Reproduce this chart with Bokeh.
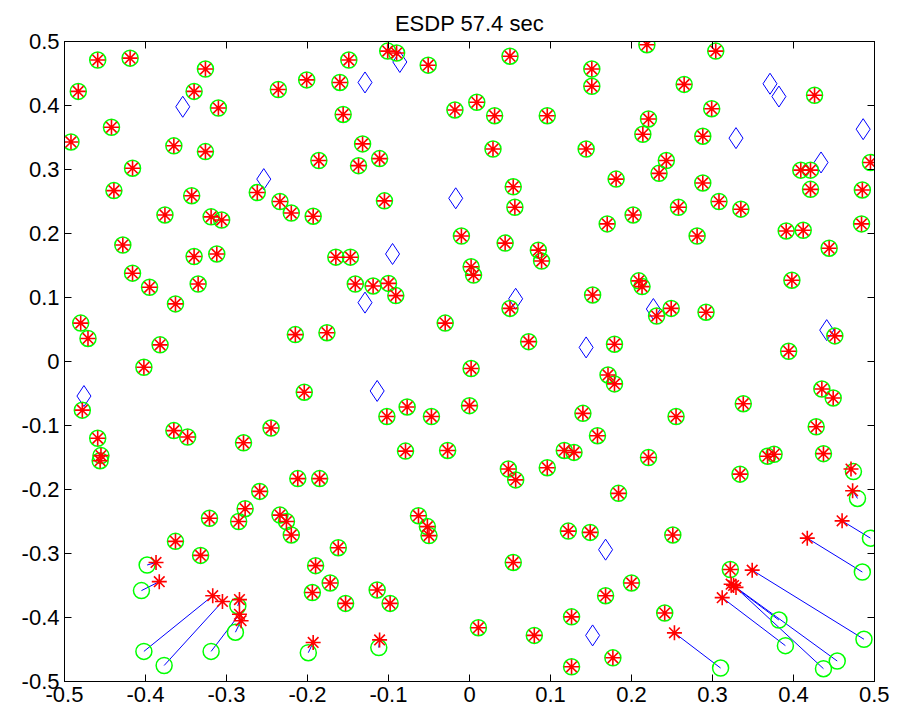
from bokeh.plotting import figure
from bokeh.models import LinearAxis, FixedTicker, CustomJSTickFormatter, Range1d
from bokeh.embed import file_html
from bokeh.resources import INLINE

title_text = "ESDP 57.4 sec"
tick_values = [-0.5, -0.4, -0.3, -0.2, -0.1, 0.0, 0.1, 0.2, 0.3, 0.4, 0.5]
tick_labels = ["-0.5", "-0.4", "-0.3", "-0.2", "-0.1", "0", "0.1", "0.2", "0.3", "0.4", "0.5"]

# sensors whose estimate coincides with the true position
matched_x = [
    -0.459, -0.419, -0.483, -0.326, -0.340, -0.310, -0.442, -0.492, -0.365, -0.326, -0.416, -0.439,
    -0.343, -0.376, -0.319, -0.306,
    -0.149, -0.101, -0.090, -0.051, -0.201, -0.236, -0.160, -0.156, -0.132, -0.111, -0.186, -0.137,
    -0.262, -0.234, -0.220, -0.193, -0.105,
    0.050, 0.151, 0.151, 0.219, -0.018, 0.009, 0.031, 0.096, 0.221, 0.214, 0.029, 0.144, 0.181,
    0.234, 0.054, 0.056, 0.202, 0.170,
    0.304, 0.265, 0.299, 0.426, 0.288, 0.243, 0.409, 0.421, 0.495, 0.421, 0.288, 0.308, 0.258,
    0.335, 0.485, 0.484, 0.281, 0.391, 0.412,
    -0.428, -0.416, -0.395, -0.363, -0.340, -0.312, -0.335, -0.480, -0.471, -0.382, -0.402, -0.478,
    -0.459, -0.455, -0.456, -0.365, -0.348, -0.279,
    -0.165, -0.147, -0.141, -0.119, -0.100, -0.091, -0.030, -0.215, -0.176, -0.204, -0.102, -0.077,
    -0.047, -0.245, -0.079, -0.027,
    -0.010, 0.044, 0.085, 0.089, 0.002, 0.005, 0.050, 0.152, 0.209, 0.213, 0.231, 0.073, 0.179,
    0.002, 0.171, 0.179, 0.000, 0.140, 0.158, 0.117, 0.129, 0.221,
    0.444, 0.398, 0.249, 0.292, 0.451, 0.394, 0.435, 0.449, 0.338, 0.255, 0.428, 0.368, 0.376, 0.437,
    -0.321, -0.285, -0.277, -0.363, -0.332, -0.212, -0.185, -0.259, -0.234, -0.226, -0.220, -0.162,
    -0.190, -0.172, -0.194, -0.153, -0.114, -0.098, -0.063, -0.052, -0.050,
    0.048, 0.057, 0.096, 0.184, 0.122, 0.149, 0.054, 0.200, 0.168, 0.241, 0.126, 0.011, 0.080,
    0.177, 0.126,
    0.334, 0.251, 0.322,
]
matched_y = [
    0.471, 0.474, 0.422, 0.457, 0.422, 0.396, 0.366, 0.343, 0.337, 0.328, 0.302, 0.267,
    0.259, 0.229, 0.226, 0.221,
    0.471, 0.485, 0.482, 0.463, 0.440, 0.425, 0.436, 0.386, 0.340, 0.317, 0.314, 0.306,
    0.264, 0.250, 0.232, 0.227, 0.251,
    0.477, 0.457, 0.430, 0.495, 0.393, 0.405, 0.384, 0.384, 0.379, 0.355, 0.332, 0.332, 0.285,
    0.294, 0.273, 0.241, 0.229, 0.215,
    0.485, 0.433, 0.395, 0.416, 0.352, 0.314, 0.299, 0.299, 0.311, 0.269, 0.279, 0.250, 0.241,
    0.238, 0.268, 0.215, 0.196, 0.204, 0.205,
    0.182, 0.138, 0.116, 0.090, 0.164, 0.168, 0.121, 0.060, 0.036, 0.026, -0.009, -0.076,
    -0.120, -0.147, -0.155, -0.108, -0.118, -0.127,
    0.163, 0.163, 0.121, 0.118, 0.122, 0.103, 0.060, 0.042, 0.045, -0.048, -0.086, -0.071,
    -0.086, -0.104, -0.140, -0.139,
    0.196, 0.185, 0.174, 0.157, 0.148, 0.135, 0.083, 0.104, 0.126, 0.117, 0.071, 0.031, 0.027,
    -0.011, -0.021, -0.035, -0.069, -0.081, -0.116, -0.139, -0.142, -0.150,
    0.177, 0.127, 0.083, 0.077, 0.040, 0.016, -0.043, -0.057, -0.066, -0.086, -0.102, -0.148, -0.145, -0.144,
    -0.245, -0.250, -0.230, -0.281, -0.303, -0.183, -0.183, -0.203, -0.240, -0.250, -0.271, -0.291,
    -0.319, -0.346, -0.361, -0.378, -0.357, -0.378, -0.241, -0.258, -0.272,
    -0.168, -0.185, -0.166, -0.206, -0.265, -0.267, -0.314, -0.346, -0.366, -0.393, -0.399, -0.416, -0.428,
    -0.463, -0.477,
    -0.176, -0.271, -0.325,
]

# sensors whose estimate is off: estimated and true positions
moved_est_x = [-0.387, -0.383, -0.317, -0.305, -0.284, -0.282, -0.284, -0.193, -0.111,
               0.473, 0.460, 0.417, 0.349, 0.323, 0.329, 0.326, 0.312, 0.253, 0.471]
moved_est_y = [-0.314, -0.344, -0.366, -0.375, -0.395, -0.405, -0.372, -0.439, -0.435,
               -0.202, -0.249, -0.276, -0.326, -0.348, -0.353, -0.350, -0.369, -0.424, -0.168]
moved_true_x = [-0.398, -0.405, -0.402, -0.377, -0.319, -0.289, -0.286, -0.199, -0.112,
                0.479, 0.495, 0.485, 0.487, 0.382, 0.454, 0.437, 0.390, 0.310, 0.474]
moved_true_y = [-0.318, -0.358, -0.453, -0.475, -0.453, -0.423, -0.382, -0.455, -0.447,
                -0.214, -0.276, -0.329, -0.434, -0.404, -0.468, -0.480, -0.444, -0.479, -0.172]

# anchors
anchor_x = [-0.354, -0.086, -0.129, -0.254, -0.017, 0.371, 0.382, 0.329, 0.486, 0.434,
            -0.476, -0.095, -0.129, -0.114, 0.057, 0.227, 0.144, 0.441, 0.168, 0.152]
anchor_y = [0.398, 0.468, 0.436, 0.285, 0.255, 0.434, 0.414, 0.349, 0.363, 0.311,
            -0.054, 0.168, 0.092, -0.046, 0.098, 0.082, 0.022, 0.049, -0.294, -0.428]

true_x = matched_x + moved_true_x
true_y = matched_y + moved_true_y
est_x = matched_x + moved_est_x
est_y = matched_y + moved_est_y

FONT = "Liberation Sans"

p = figure(
    frame_width=810, frame_height=640,
    min_border_left=64, min_border_right=15, min_border_top=41, min_border_bottom=29,
    x_range=Range1d(-0.5, 0.5), y_range=Range1d(-0.5, 0.5),
    output_backend="svg", toolbar_location=None,
    background_fill_color="white", border_fill_color="white",
    title=title_text,
)
p.title.align = "center"
p.title.text_font = FONT
p.title.text_font_size = "22px"
p.title.text_font_style = "normal"
p.title.text_color = "black"
p.title.standoff = 11

p.grid.visible = False
p.outline_line_color = "black"
p.outline_line_width = 1

for ax in [p.xaxis[0], p.yaxis[0]]:
    ax.ticker = FixedTicker(ticks=tick_values)
    ax.major_label_overrides = {v: s for v, s in zip(tick_values, tick_labels)}
    ax.major_tick_in = 7
    ax.major_tick_out = 0
    ax.minor_tick_line_color = None
    ax.major_label_text_font = FONT
    ax.major_label_text_font_size = "22px"
    ax.major_label_text_color = "black"
    ax.axis_line_color = "black"
    ax.major_tick_line_color = "black"
p.xaxis[0].major_label_standoff = 5
p.yaxis[0].major_label_standoff = 5

for side in ["above", "right"]:
    ax = LinearAxis(ticker=FixedTicker(ticks=tick_values),
                    formatter=CustomJSTickFormatter(code="return ''"))
    ax.major_tick_in = 7
    ax.major_tick_out = 0
    ax.minor_tick_line_color = None
    ax.major_label_text_font_size = "0px"
    ax.major_label_standoff = 0
    ax.axis_line_color = "black"
    p.add_layout(ax, side)

p.segment(x0=est_x, y0=est_y, x1=true_x, y1=true_y, line_color="#0000ff", line_width=1)
p.scatter(anchor_x, anchor_y, marker="diamond", size=21, fill_color=None,
          line_color="#0000ff", line_width=1)
p.scatter(true_x, true_y, marker="circle", size=16, fill_color=None,
          line_color="#00ff00", line_width=1.5)
p.scatter(est_x, est_y, marker="asterisk", size=15, line_color="#ff0000", line_width=1.6)

open("out.html", "w").write(file_html(p, INLINE))
